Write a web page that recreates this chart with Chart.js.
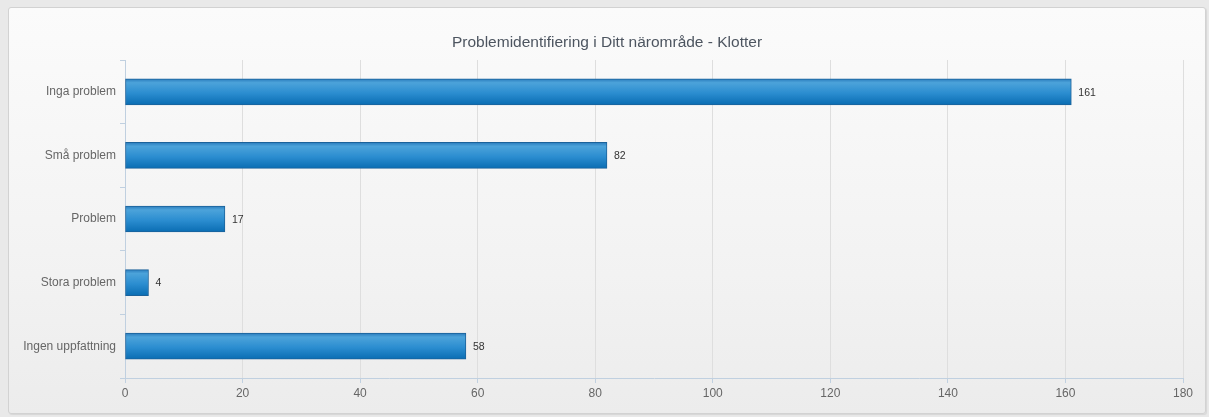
<!DOCTYPE html>
<html>
<head>
<meta charset="utf-8">
<script src="https://cdn.jsdelivr.net/npm/chart.js@4.4.1/dist/chart.umd.min.js"></script>
<style>
  html, body { margin: 0; padding: 0; background: #e9e9e9; }
  #box {
    position: absolute; left: 8px; top: 7px; width: 1196px; height: 405px;
    border: 1px solid #d2d2d2; border-radius: 3px;
    background: linear-gradient(to bottom, #fbfbfb 0%, #f3f3f3 60%, #ececec 100%);
    box-shadow: 1px 1px 1px rgba(0,0,0,0.08);
  }
  #wrap { position: absolute; left: 0; top: 0; width: 1196px; height: 405px; }
</style>
</head>
<body>
<div id="box"><div id="wrap"><canvas id="c"></canvas></div></div>
<script>
// chart data
var categories = ['Inga problem', 'Små problem', 'Problem', 'Stora problem', 'Ingen uppfattning'];
var counts = [161, 82, 17, 4, 58];
var xTicks = [0, 20, 40, 60, 80, 100, 120, 140, 160, 180];
var titleText = 'Problemidentifiering i Ditt närområde - Klotter';

var FONT = '"Liberation Sans", Arial, Helvetica, sans-serif';
var AXIS_C = '#c0d0e0';

// vertical gradient per bar, set once the bars have their geometry
var barGradient = {
  id: 'barGradient',
  afterDatasetsUpdate: function (c) {
    var ctx = c.ctx;
    c.getDatasetMeta(0).data.forEach(function (bar) {
      var h = bar.height, top = bar.y - h / 2;
      var g = ctx.createLinearGradient(0, top, 0, top + h);
      g.addColorStop(0, '#2a7cbd');
      g.addColorStop(0.15, '#4ca3da');
      g.addColorStop(0.55, '#2b8dd0');
      g.addColorStop(1, '#0a6db3');
      bar.options = Object.assign({}, bar.options, { backgroundColor: g });
    });
  }
};

// value labels at the end of each bar
var valueLabels = {
  id: 'valueLabels',
  afterDatasetsDraw: function (c) {
    var ctx = c.ctx, data = c.data.datasets[0].data;
    ctx.save();
    ctx.font = '10.5px ' + FONT;
    ctx.fillStyle = '#333';
    ctx.textAlign = 'left';
    ctx.textBaseline = 'middle';
    c.getDatasetMeta(0).data.forEach(function (bar, i) {
      ctx.fillText(String(data[i]), bar.x + 7, bar.y + 1);
    });
    ctx.restore();
  }
};

new Chart(document.getElementById('c'), {
  type: 'bar',
  data: {
    labels: categories,
    datasets: [{
      data: counts,
      backgroundColor: '#2b8dd0',
      borderColor: '#1b629a',
      borderWidth: 1,
      borderSkipped: false,
      barThickness: 26
    }]
  },
  plugins: [barGradient, valueLabels],
  options: {
    indexAxis: 'y',
    responsive: true,
    maintainAspectRatio: false,
    animation: false,
    layout: { padding: 0 },
    plugins: {
      legend: { display: false },
      tooltip: { enabled: false },
      title: {
        display: true,
        text: titleText,
        color: '#4d5560',
        font: { family: FONT, size: 15.5, weight: 'normal' },
        padding: { top: 25, bottom: 8.4 }
      }
    },
    scales: {
      x: {
        min: 0, max: 180,
        afterBuildTicks: function (s) { s.ticks = xTicks.map(function (v) { return { value: v }; }); },
        afterFit: function (s) { s.height = 35; },
        border: { color: AXIS_C, width: 1 },
        grid: { color: '#dedede', tickColor: AXIS_C, tickLength: 5 },
        ticks: { color: '#666', font: { family: FONT, size: 12 }, padding: 3 }
      },
      y: {
        afterFit: function (s) { s.width = 116; },
        border: { color: AXIS_C, width: 1 },
        grid: { drawOnChartArea: false, tickColor: AXIS_C, tickLength: 5, offset: true },
        ticks: { color: '#666', font: { family: FONT, size: 12 }, padding: 4 }
      },
      // empty right-hand spacer so the title stays centred on the whole box
      spacer: {
        type: 'linear', axis: 'y', position: 'right',
        afterFit: function (s) { s.width = 22; },
        border: { display: false },
        grid: { display: false },
        ticks: { display: false }
      }
    }
  }
});
</script>
</body>
</html>
